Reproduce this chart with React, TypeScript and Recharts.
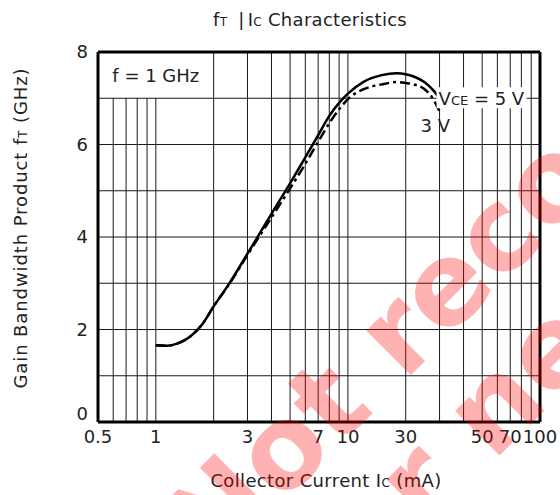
import React from 'react';
import {
  LineChart,
  Line,
  XAxis,
  YAxis,
  CartesianGrid,
  ReferenceLine,
  ReferenceDot,
  ReferenceArea,
} from 'recharts';

// ---- data ----
const X_TICKS = [0.5, 1, 3, 7, 10, 20, 50, 70, 100];
const X_TICK_LABELS = ['0.5', '1', '3', '7', '10', '30', '50', '70', '100'];
const Y_TICKS = [0, 1, 2, 3, 4, 5, 6, 7, 8];
const Y_TICK_LABELS = ['0', '', '2', '', '4', '', '6', '', '8'];
const GRID_X_SHORT = [0.6, 0.7, 0.8, 0.9, 1];
const GRID_X_FULL = [2, 3, 4, 5, 6, 7, 8, 9, 10, 20, 30, 40, 50, 60, 70, 80, 90];

const IC_5V = [1, 1.15, 1.3, 1.5, 1.75, 2, 2.4, 3, 3.5, 4, 5, 6, 7, 8, 9, 10, 12, 15, 18, 20, 22, 25, 28, 30];
const FT_5V = [1.66, 1.65, 1.7, 1.84, 2.12, 2.5, 2.98, 3.64, 4.1, 4.5, 5.16, 5.72, 6.2, 6.62, 6.9, 7.1, 7.35, 7.5, 7.54, 7.52, 7.47, 7.35, 7.16, 7.0];

const IC_3V = [1, 1.15, 1.3, 1.5, 1.75, 2, 2.4, 3, 3.5, 4, 5, 6, 7, 8, 9, 10, 12, 15, 18, 20, 22, 25, 28, 30];
const FT_3V = [1.66, 1.65, 1.7, 1.84, 2.12, 2.5, 2.97, 3.61, 4.05, 4.42, 5.05, 5.58, 6.06, 6.46, 6.76, 6.98, 7.19, 7.3, 7.35, 7.33, 7.3, 7.2, 6.96, 6.71];

const data5 = IC_5V.map((ic, i) => ({ ic, ft: FT_5V[i] }));
const data3 = IC_3V.map((ic, i) => ({ ic, ft: FT_3V[i] }));

const FONT = 'DejaVu Sans';
const TXT = '#222';

const VceLabel = (props: any) => {
  const { viewBox } = props;
  const x = viewBox.x;
  const y = viewBox.y;
  return (
    <g>
      <rect x={x - 3} y={y - 11} width={90} height={21} fill="#fff" />
      <text x={x - 1} y={y + 6.5} fontFamily={FONT} fontSize={18} fill={TXT}>
        V<tspan fontSize={13}>CE</tspan> = 5 V
      </text>
    </g>
  );
};

const ThreeVLabel = (props: any) => {
  const { viewBox } = props;
  return (
    <text x={viewBox.x - 19} y={viewBox.y + 20} fontFamily={FONT} fontSize={18} fill={TXT}>
      3 V
    </text>
  );
};

const YTick = (props: any) => {
  const { x, y, payload, index } = props;
  const label = Y_TICK_LABELS[index];
  if (!label) return null;
  return (
    <text
      x={x}
      y={y + (payload.value === 0 ? -8 : 0)}
      dy="0.355em"
      textAnchor="end"
      fontFamily={FONT}
      fontSize={18}
      fill={TXT}
    >
      {label}
    </text>
  );
};

export default function App() {
  return (
    <div style={{ position: 'absolute', left: 0, top: 0, width: 560, height: 495, background: '#fff' }}>
      <LineChart
        width={560}
        height={495}
        margin={{ top: 52, right: 20, bottom: 0, left: 0 }}
      >
        <CartesianGrid vertical={false} stroke="#1a1a1a" strokeWidth={1} />
        {GRID_X_SHORT.map((v) => (
          <ReferenceLine
            key={'s' + v}
            segment={[{ x: v, y: 0 }, { x: v, y: 7 }]}
            stroke="#1a1a1a"
            strokeWidth={1}
          />
        ))}
        {GRID_X_FULL.map((v) => (
          <ReferenceLine key={'f' + v} x={v} stroke="#1a1a1a" strokeWidth={1} />
        ))}
        <XAxis
          dataKey="ic"
          type="number"
          scale="log"
          domain={[0.5, 100]}
          allowDataOverflow
          ticks={X_TICKS}
          interval={0}
          tickFormatter={(v: number, i: number) => X_TICK_LABELS[i]}
          tickLine={false}
          axisLine={{ stroke: '#000', strokeWidth: 3 }}
          tick={{ fontSize: 18, fill: TXT, fontFamily: FONT }}
          height={73}
        />
        <YAxis
          type="number"
          domain={[0, 8]}
          ticks={Y_TICKS}
          interval={0}
          tickLine={false}
          tickMargin={4}
          axisLine={{ stroke: '#000', strokeWidth: 3 }}
          tick={<YTick />}
          width={98}
        />
        <ReferenceLine x={100} stroke="#000" strokeWidth={3} />
        <ReferenceLine y={8} stroke="#000" strokeWidth={3} />
        <ReferenceArea
          x1={0.5}
          x2={2}
          y1={7}
          y2={8}
          fill="none"
          stroke="none"
          label={{ value: 'f = 1 GHz', position: 'center', fontSize: 18, fill: TXT, fontFamily: FONT }}
        />
        <Line
          data={data3}
          dataKey="ft"
          type="monotone"
          stroke="#000"
          strokeWidth={2.5}
          strokeDasharray="10 4 3 4"
          dot={false}
          isAnimationActive={false}
        />
        <Line
          data={data5}
          dataKey="ft"
          type="monotone"
          stroke="#000"
          strokeWidth={2.5}
          dot={false}
          isAnimationActive={false}
        />
        <ReferenceDot x={30} y={7.0} r={0} stroke="none" fill="none" label={<VceLabel />} />
        <ReferenceDot x={30} y={6.71} r={0} stroke="none" fill="none" label={<ThreeVLabel />} />
      </LineChart>
      <svg
        width={560}
        height={495}
        style={{ position: 'absolute', left: 0, top: 0, pointerEvents: 'none' }}
      >
        <text x={213} y={26} fontFamily={FONT} fontSize={18} fill={TXT} letterSpacing={0.3}>
          f<tspan fontSize={12}>T</tspan>
          <tspan dx={11}>|</tspan>
          <tspan dx={3}>I</tspan>
          <tspan fontSize={12}>C</tspan> Characteristics
        </text>
        <text
          transform="translate(27,228) rotate(-90)"
          textAnchor="middle"
          fontFamily={FONT}
          fontSize={18}
          fill={TXT}
          letterSpacing={0.9}
        >
          Gain Bandwidth Product f<tspan fontSize={12}>T</tspan> (GHz)
        </text>
        <text x={326} y={487} textAnchor="middle" fontFamily={FONT} fontSize={18} fill={TXT} letterSpacing={0.35}>
          Collector Current I<tspan fontSize={12}>C</tspan> (mA)
        </text>
        <g fill="#ff0000" fillOpacity={0.3} fontFamily={FONT} fontWeight="bold" fontSize={115}>
          <text transform="translate(213,573) rotate(-45)">Not recommended</text>
          <text transform="translate(333,622) rotate(-45)">for new design</text>
        </g>
      </svg>
    </div>
  );
}
